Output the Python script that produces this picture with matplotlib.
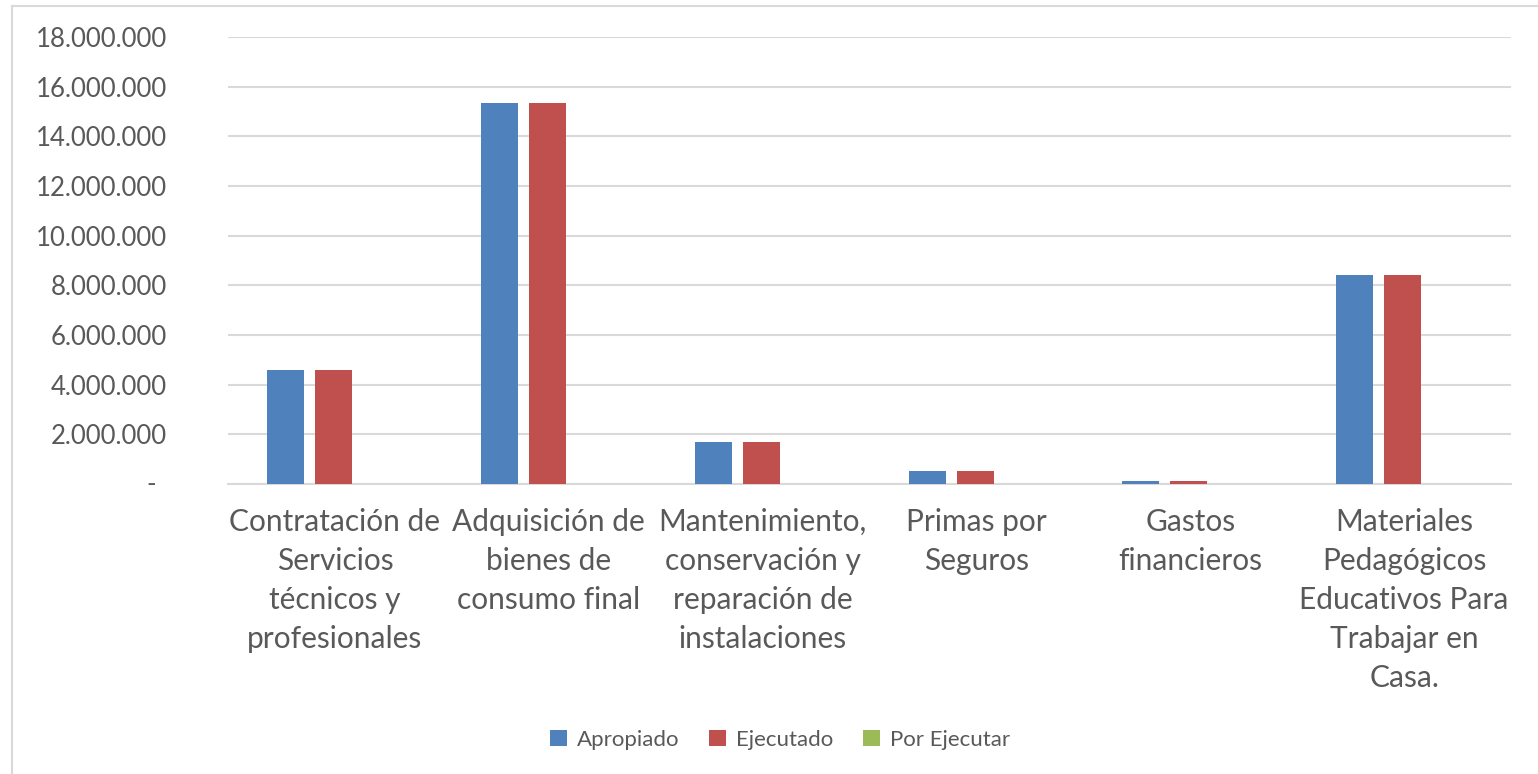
import matplotlib
matplotlib.use("Agg")
import matplotlib.pyplot as plt
import numpy as np

categories = [
    "Contratación de\nServicios\ntécnicos y\nprofesionales",
    "Adquisición de\nbienes de\nconsumo final",
    "Mantenimiento,\nconservación y\nreparación de\ninstalaciones",
    "Primas por\nSeguros",
    "Gastos\nfinancieros",
    "Materiales\nPedagógicos\nEducativos Para\nTrabajar en\nCasa.",
]
apropiado = [4590000, 15340000, 1690000, 520000, 120000, 8420000]
ejecutado = [4590000, 15340000, 1690000, 520000, 120000, 8420000]
por_ejecutar = [0, 0, 0, 0, 0, 0]
series_names = ["Apropiado", "Ejecutado", "Por Ejecutar"]
colors = ["#4F81BD", "#C0504D", "#9BBB59"]
yticks = [0, 2000000, 4000000, 6000000, 8000000, 10000000, 12000000, 14000000, 16000000, 18000000]
ytick_labels = ["", "2.000.000", "4.000.000", "6.000.000", "8.000.000", "10.000.000",
                "12.000.000", "14.000.000", "16.000.000", "18.000.000"]

plt.rcParams['font.family'] = ['Lato', 'DejaVu Sans']
text_color = "#595959"
grid_color = "#D9D9D9"

fig = plt.figure(figsize=(15.38, 7.74), dpi=100)
ax = fig.add_axes([228/1538, 1-484/774, (1511-228)/1538, (484-37)/774])

x = np.arange(len(categories))
w = 0.173
step = 0.2245
for i, (vals, name, c) in enumerate(zip([apropiado, ejecutado, por_ejecutar], series_names, colors)):
    ax.bar(x + (i - 1) * step - 0.006, vals, width=w, color=c, label=name, zorder=3)

ax.set_xlim(-0.5, len(categories) - 0.5)
ax.set_ylim(0, 18000000)
ax.set_yticks(yticks)
ax.set_yticklabels(ytick_labels, fontsize=18.5, color=text_color)
ax.tick_params(axis='y', length=0, pad=44)
ax.annotate("-", xy=(0, 0), xycoords=ax.get_yaxis_transform(), xytext=(-52, 0),
            textcoords='offset points', ha='right', va='center', fontsize=18.5, color=text_color)
ax.set_xticks(x)
ax.set_xticklabels(categories, fontsize=21.5, color=text_color, linespacing=1.48)
ax.tick_params(axis='x', length=0, pad=17)

ax.grid(axis='y', color=grid_color, linewidth=1.5, zorder=0)
for s in ['top', 'right', 'left']:
    ax.spines[s].set_visible(False)
ax.spines['bottom'].set_color(grid_color)
ax.spines['bottom'].set_linewidth(1.5)

leg = fig.legend(loc='center', bbox_to_anchor=(780/1538, 1-740/774), ncol=3, frameon=False,
                 fontsize=16, handlelength=0.75, handleheight=0.75, handletextpad=0.45,
                 columnspacing=1.35, labelcolor=text_color)

# chart frame
fig.add_artist(plt.Line2D([12/1538, 12/1538], [0, 1-6/774], color=grid_color, linewidth=1.5))
fig.add_artist(plt.Line2D([12/1538, 1], [1-6/774, 1-6/774], color=grid_color, linewidth=1.5))

fig.savefig("out.png", dpi=100, facecolor="white")
